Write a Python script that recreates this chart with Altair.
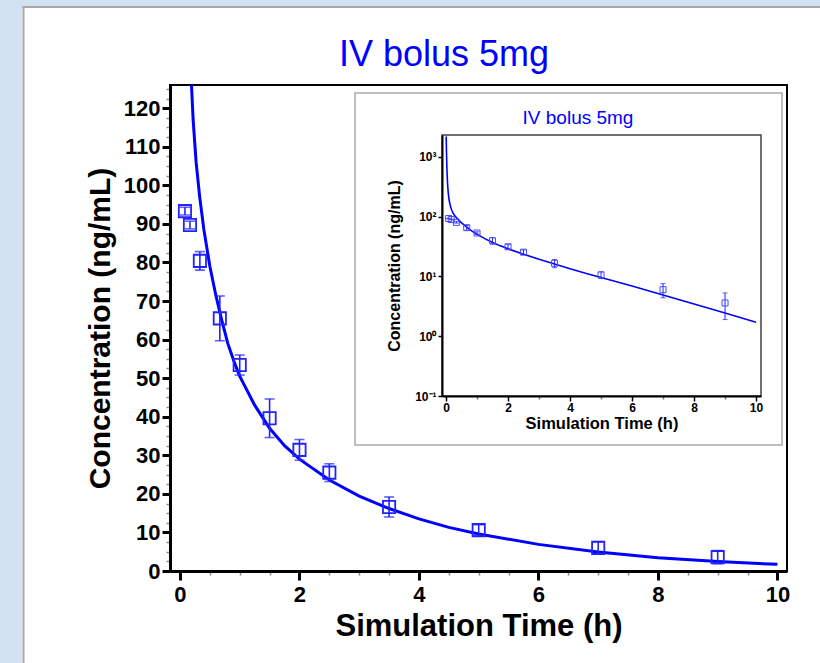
import altair as alt
import pandas as pd

# ---------------- data ----------------
title_text = "IV bolus 5mg"
x_title = "Simulation Time (h)"
y_title = "Concentration (ng/mL)"

obs_t = [0.083, 0.167, 0.333, 0.667, 1.0, 1.5, 2.0, 2.5, 3.5, 5.0, 7.0, 9.0]
obs_c = [93.3, 89.7, 80.4, 65.5, 53.4, 39.6, 31.4, 25.5, 16.6, 10.6, 6.0, 3.6]
obs_sd = [1.0, 1.0, 2.4, 5.8, 2.6, 5.0, 2.7, 2.3, 2.6, 1.4, 1.6, 1.7]

curve_t = [0.005, 0.015, 0.03, 0.05, 0.075, 0.1, 0.13, 0.16, 0.19, 0.22, 0.27,
           0.33, 0.4, 0.5, 0.6, 0.7, 0.8, 0.9, 1.0, 1.25, 1.5, 1.75, 2.0, 2.5,
           3.0, 3.5, 4.0, 4.5, 5.0, 6.0, 7.0, 8.0, 9.0, 10.0]
curve_c = [2200, 1200, 600, 350, 240, 190, 160, 140, 127, 117, 106,
           97, 88.5, 79, 71.5, 65, 59, 54.5, 50.5, 43, 37, 32.5, 29, 23.6,
           19.4, 16.2, 13.5, 11.3, 9.6, 6.9, 4.9, 3.45, 2.45, 1.72]

main_x_ticks = [i * 0.5 for i in range(21)]
main_y_ticks = [i * 2.5 for i in range(51)]
inset_x_ticks = list(range(11))
inset_y_ticks = [0.1, 1, 10, 100, 1000]

obs = pd.DataFrame({"t": obs_t, "c": obs_c, "sd": obs_sd})
obs["lo"] = obs["c"] - obs["sd"]
obs["hi"] = obs["c"] + obs["sd"]
curve = pd.DataFrame({"t": curve_t, "c": curve_c})

# ---------------- layout ----------------
FONT = "Liberation Sans"
BLUE = "#0000ff"
PT_BLUE = "#2222ff"
LEFT, TOP = 170, 85
W, H = 617, 486
TOTAL_W, TOTAL_H = 820, 663

# inset geometry (pixels relative to main plot area)
IB = dict(x=185, x2=612, y=8, y2=360)      # inset box
IP = dict(x=272, x2=591, y=50, y2=311)     # inset plot area


def cond(test, a, b):
    return {"condition": {"test": test, "value": a}, "value": b}


main_x_scale = alt.Scale(domain=[-0.167, 10.16], nice=False, zero=False)
main_y_scale = alt.Scale(domain=[0, 126], nice=False, zero=False)
in_x_scale = alt.Scale(domain=[-0.13, 10.16], range=[IP["x"], IP["x2"]], nice=False, zero=False)
in_y_scale = alt.Scale(type="log", domain=[0.1, 2326], range=[IP["y2"], IP["y"]], nice=False)

mx_test = "datum.value % 2 === 0"
my_test = "datum.value % 10 === 0"

main_x_axis = alt.Axis(
    values=main_x_ticks,
    labelExpr=f"{mx_test} ? toString(datum.value) : ''",
    title=x_title, titleFont=FONT, titleFontSize=31, titleFontWeight="bold",
    titleColor="black", titlePadding=6,
    labelFont=FONT, labelFontSize=22, labelFontWeight="bold", labelColor="black",
    labelPadding=4, labelOverlap=False, labelFlush=False,
    domainColor="black", domainWidth=3,
    tickColor=cond(mx_test, "black", "#8a8a8a"),
    tickWidth=cond(mx_test, 3, 1.5),
    tickSize=cond(mx_test, 9, 4),
    grid=False, zindex=1,
)
main_y_axis = alt.Axis(
    values=main_y_ticks,
    labelExpr=f"{my_test} ? toString(datum.value) : ''",
    title=y_title, titleFont=FONT, titleFontSize=30, titleFontWeight="bold",
    titleColor="black", titlePadding=8,
    labelFont=FONT, labelFontSize=22, labelFontWeight="bold", labelColor="black",
    labelPadding=2, labelOverlap=False, labelFlush=False,
    domainColor="black", domainWidth=3,
    tickColor=cond(my_test, "black", "#8a8a8a"),
    tickWidth=cond(my_test, 3, 1.5),
    tickSize=cond(my_test, 8, 4),
    grid=False, zindex=1,
)

in_x_axis = alt.Axis(
    orient="bottom", offset=IP["y2"] - H,
    values=inset_x_ticks,
    labelExpr=f"{mx_test} ? toString(datum.value) : ''",
    title=x_title, titleFont=FONT, titleFontSize=16.5, titleFontWeight="bold",
    titleColor="black", titlePadding=2,
    labelFont=FONT, labelFontSize=12, labelFontWeight="bold", labelColor="black",
    labelPadding=1, labelOverlap=False, labelFlush=False,
    domainColor="black", domainWidth=2,
    tickColor=cond(mx_test, "black", "#777777"),
    tickWidth=1.5,
    tickSize=cond(mx_test, 5, 3),
    grid=False, zindex=1,
)
in_y_axis = alt.Axis(
    orient="left", offset=-IP["x"],
    values=inset_y_ticks,
    labelExpr=("datum.value < 0.5 ? '10\u207b\u00b9' : datum.value < 5 ? '10\u2070' : "
               "datum.value < 50 ? '10\u00b9' : datum.value < 500 ? '10\u00b2' : '10\u00b3'"),
    title=y_title, titleFont=FONT, titleFontSize=16, titleFontWeight="bold",
    titleColor="black", titlePadding=12,
    labelFont=FONT, labelFontSize=12, labelFontWeight="bold", labelColor="black",
    labelPadding=2, labelOverlap=False, labelFlush=False,
    domainColor="black", domainWidth=2,
    tickColor="black", tickWidth=1.5, tickSize=4,
    grid=False, zindex=1,
)

one = pd.DataFrame({"k": [0]})

# ---------------- window decoration ----------------
bg_left = alt.Chart(one).mark_rect(color="#d3e2f3").encode(
    x=alt.value(-LEFT), x2=alt.value(22 - LEFT),
    y=alt.value(-TOP), y2=alt.value(TOTAL_H - TOP))
bg_top = alt.Chart(one).mark_rect(color="#d3e2f3").encode(
    x=alt.value(-LEFT), x2=alt.value(TOTAL_W - LEFT),
    y=alt.value(-TOP), y2=alt.value(6 - TOP))
line_v = alt.Chart(one).mark_rule(color="#a8a8a8", strokeWidth=2).encode(
    x=alt.value(23.5 - LEFT), y=alt.value(6 - TOP), y2=alt.value(TOTAL_H - TOP))
line_h = alt.Chart(one).mark_rule(color="#a8a8a8", strokeWidth=2).encode(
    x=alt.value(22.5 - LEFT), x2=alt.value(TOTAL_W - LEFT), y=alt.value(7 - TOP))

title_df = pd.DataFrame({"label": [title_text]})
main_title = alt.Chart(title_df).mark_text(
    font=FONT, fontSize=36, color=BLUE, align="center", baseline="alphabetic"
).encode(text="label:N", x=alt.value(444 - LEFT), y=alt.value(66 - TOP))

# ---------------- main plot ----------------
m_curve = alt.Chart(curve).mark_line(color=BLUE, strokeWidth=3, clip=True).encode(
    x=alt.X("t:Q", scale=main_x_scale, axis=main_x_axis),
    y=alt.Y("c:Q", scale=main_y_scale, axis=main_y_axis),
)
m_err = alt.Chart(obs).mark_errorbar(ticks=True, size=10, thickness=1.6, color=PT_BLUE).encode(
    x=alt.X("t:Q", scale=main_x_scale, axis=main_x_axis),
    y=alt.Y("lo:Q", scale=main_y_scale, axis=main_y_axis),
    y2="hi:Q",
)
m_pts = alt.Chart(obs).mark_point(shape="square", size=150, filled=False,
                                  color=PT_BLUE, strokeWidth=1.8, opacity=1).encode(
    x=alt.X("t:Q", scale=main_x_scale, axis=main_x_axis),
    y=alt.Y("c:Q", scale=main_y_scale, axis=main_y_axis),
)
main = alt.layer(m_curve, m_err, m_pts)

# ---------------- inset ----------------
i_box = alt.Chart(one).mark_rect(fill="white", stroke="#a9a9a9", strokeWidth=1.5).encode(
    x=alt.value(IB["x"]), x2=alt.value(IB["x2"]), y=alt.value(IB["y"]), y2=alt.value(IB["y2"]))
i_frame = alt.Chart(one).mark_rect(fillOpacity=0, stroke="#404040", strokeWidth=1.5).encode(
    x=alt.value(IP["x"]), x2=alt.value(IP["x2"]), y=alt.value(IP["y"]), y2=alt.value(IP["y2"]))
i_title = alt.Chart(title_df).mark_text(
    font=FONT, fontSize=19, color=BLUE, align="center", baseline="alphabetic"
).encode(text="label:N", x=alt.value(578 - LEFT), y=alt.value(124 - TOP))
i_curve = alt.Chart(curve).mark_line(color=BLUE, strokeWidth=1.6).encode(
    x=alt.X("t:Q", scale=in_x_scale, axis=in_x_axis),
    y=alt.Y("c:Q", scale=in_y_scale, axis=in_y_axis),
)
i_err = alt.Chart(obs).mark_errorbar(ticks=True, size=5, thickness=1, color=PT_BLUE).encode(
    x=alt.X("t:Q", scale=in_x_scale, axis=in_x_axis),
    y=alt.Y("lo:Q", scale=in_y_scale, axis=in_y_axis),
    y2="hi:Q",
)
i_pts = alt.Chart(obs).mark_point(shape="square", size=36, filled=False,
                                  color="#4a4aff", strokeWidth=1, opacity=1).encode(
    x=alt.X("t:Q", scale=in_x_scale, axis=in_x_axis),
    y=alt.Y("c:Q", scale=in_y_scale, axis=in_y_axis),
)
inset = alt.layer(i_box, i_frame, i_title, i_curve, i_err, i_pts)

chart = alt.layer(
    bg_left, bg_top, line_v, line_h, main_title, main, inset
).resolve_scale(
    x="independent", y="independent"
).resolve_axis(
    x="independent", y="independent"
).properties(
    width=W, height=H,
    autosize=alt.AutoSizeParams(type="none"),
    padding={"left": LEFT, "top": TOP, "right": TOTAL_W - LEFT - W, "bottom": TOTAL_H - TOP - H},
    background="white",
).configure_view(
    stroke="black", strokeWidth=2
)

chart.save("out.html", embed_options={"renderer": "svg", "actions": False})
